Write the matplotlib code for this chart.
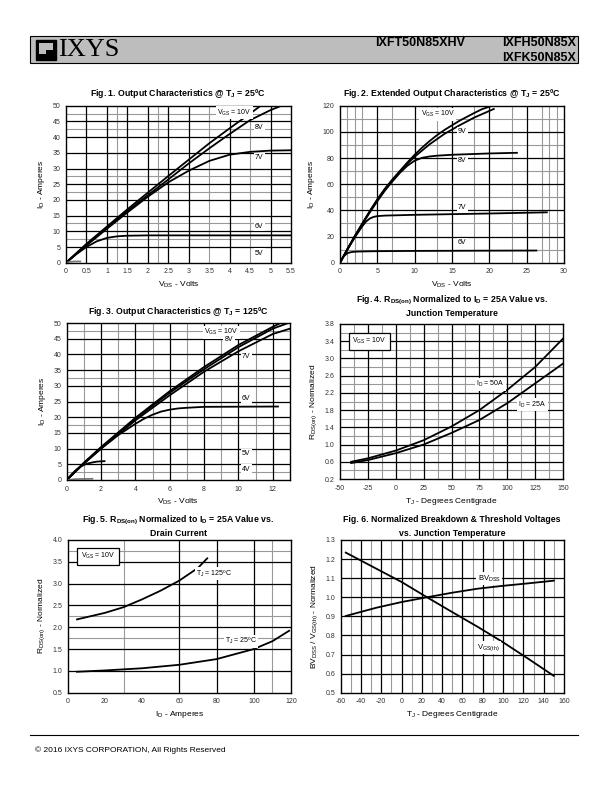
"""
IXYS datasheet page: output characteristics, Rds(on) and threshold curves
"""
import numpy as np
import matplotlib.pyplot as plt
from matplotlib.patches import Rectangle

plt.rcParams['font.family'] = ['Liberation Sans', 'DejaVu Sans']
plt.rcParams['mathtext.default'] = 'regular'

NARROW = ['Liberation Sans Narrow', 'Liberation Sans', 'DejaVu Sans']

# ---- Fig. 1  Output characteristics @ 25C ----
f1_vds_10v = [0, 0.5, 1, 1.5, 2, 2.5, 3, 3.5, 4, 4.5, 4.76]
f1_id_10v = [0, 6, 11.5, 17, 22.3, 27.6, 32.8, 38, 42.8, 47.5, 50]
f1_vds_8v = [0, 0.5, 1, 1.5, 2, 2.5, 3, 3.5, 4, 4.5, 5, 5.27]
f1_id_8v = [0, 5.8, 11.2, 16.5, 21.5, 26.5, 31.6, 36.4, 41, 45.4, 48.6, 50]
f1_vds_7v = [0, 0.5, 1, 1.5, 2, 2.5, 3, 3.5, 4, 4.5, 5, 5.5]
f1_id_7v = [0, 5.5, 10.8, 16, 21, 25.6, 29.3, 32.4, 34.4, 35.3, 35.7, 35.8]
f1_vds_6v = [0, 0.25, 0.5, 0.75, 1, 1.25, 1.5, 2, 3, 5.5]
f1_id_6v = [0, 2.7, 5, 6.8, 7.9, 8.4, 8.6, 8.7, 8.7, 8.7]
f1_vds_5v = [0, 0.1, 0.2, 0.35]
f1_id_5v = [0, 0.3, 0.4, 0.4]

# ---- Fig. 2  Extended output characteristics @ 25C ----
f2_vds_10v = [0, 1, 2, 3, 4, 5, 6, 7, 8, 9, 10, 11, 12, 13, 14, 15, 16, 17, 18, 19, 20.4]
f2_id_10v = [0, 10.5, 20.5, 30, 39.5, 48.5, 56.5, 63.5, 70, 76.5, 82.5, 88, 93, 97.5,
             101.5, 105, 108.5, 111.5, 114.5, 117.3, 120]
f2_vds_9v = [0, 1, 2, 3, 4, 5, 6, 7, 8, 9, 10, 12, 14, 16, 18, 20.6]
f2_id_9v = [0, 10.5, 20.5, 30, 39.3, 48, 56, 63, 69.5, 75.5, 81, 90.5, 98.5, 105, 111, 117.5]
f2_vds_8v = [0, 1, 2, 3, 4, 5, 6, 7, 8, 9, 10, 11, 12, 13, 15, 20, 23.7]
f2_id_8v = [0, 10.3, 20, 29.5, 38.5, 47, 55, 62, 68.5, 74, 78, 80.2, 81.2, 81.8, 82.5, 83.5, 84]
f2_vds_7v = [0, 1, 2, 3, 3.5, 4, 4.5, 5, 6, 10, 15, 20, 27.7]
f2_id_7v = [0, 10, 19.5, 28, 31.5, 33.8, 35, 35.6, 36, 36.6, 37.1, 37.6, 38.5]
f2_vds_6v = [0, 0.5, 1, 1.5, 2, 3, 5, 10, 20, 26.3]
f2_id_6v = [0, 5, 7.3, 8.1, 8.4, 8.6, 8.8, 9, 9.2, 9.3]

# ---- Fig. 3  Output characteristics @ 125C ----
f3_vds_10v = [0, 1, 2, 4, 6, 8, 10, 12, 12.45]
f3_id_10v = [0, 5.5, 10.5, 19.8, 28.3, 36, 43, 48.8, 50]
f3_vds_8v = [0, 1, 2, 4, 6, 8, 10, 12, 12.9]
f3_id_8v = [0, 5.4, 10.3, 19.5, 27.8, 35.3, 42.3, 48.2, 50]
f3_vds_7v = [0, 1, 2, 4, 6, 8, 10, 12, 13]
f3_id_7v = [0, 5.3, 10, 19, 27, 34.5, 41, 46.5, 48.2]
f3_vds_6v = [0, 1, 2, 3, 4, 4.5, 5, 5.5, 6, 6.5, 7, 8, 12.3]
f3_id_6v = [0, 5.2, 10, 14.3, 17.9, 19.5, 20.8, 21.8, 22.4, 22.8, 23, 23.3, 23.4]
f3_vds_5v = [0, 0.25, 0.5, 0.75, 1, 1.25, 1.5, 1.75, 2, 2.2]
f3_id_5v = [0, 1.6, 3, 4.1, 4.8, 5.3, 5.6, 5.85, 5.95, 6]
f3_vds_4v = [0, 0.5, 1.5]
f3_id_4v = [0, 0.3, 0.4]

# ---- Fig. 4  Rds(on) vs junction temperature ----
f4_tj = [-40, -25, 0, 25, 50, 75, 100, 125, 150]
f4_r_50a = [0.6, 0.68, 0.86, 1.1, 1.42, 1.8, 2.27, 2.8, 3.46]
f4_r_25a = [0.57, 0.64, 0.8, 1.0, 1.27, 1.57, 1.96, 2.42, 2.88]

# ---- Fig. 5  Rds(on) vs drain current ----
f5_id_125 = [5, 20, 30, 40, 50, 60, 70, 75]
f5_r_125 = [2.18, 2.33, 2.46, 2.64, 2.84, 3.07, 3.36, 3.58]
f5_id_25 = [5, 20, 40, 60, 80, 100, 110, 119]
f5_r_25 = [0.98, 1.01, 1.06, 1.14, 1.27, 1.5, 1.68, 1.92]

# ---- Fig. 6  Breakdown & threshold vs temperature ----
f6_tj = [-55, -25, 0, 25, 50, 75, 100, 125, 150]
f6_bvdss = [0.902, 0.945, 0.975, 1.0, 1.024, 1.045, 1.06, 1.073, 1.087]
f6_vgsth = [1.234, 1.15, 1.08, 1.0, 0.922, 0.845, 0.764, 0.677, 0.588]

fig = plt.figure(figsize=(6.12, 7.92), dpi=100)


def px_axes(x0, x1, y0, y1):
    # axes placed by page pixel coordinates (top-left origin)
    return fig.add_axes([x0 / 612, 1 - y1 / 792, (x1 - x0) / 612, (y1 - y0) / 792])


def style(ax, xlim, ylim, xticks, yticks, xlabels, ylabels, black_x, gray_x, black_y, gray_y):
    ax.set_xlim(*xlim)
    ax.set_ylim(*ylim)
    for v in gray_x:
        ax.axvline(v, color='#999999', lw=0.8, zorder=1)
    for v in gray_y:
        ax.axhline(v, color='#999999', lw=0.8, zorder=1)
    for v in black_x:
        ax.axvline(v, color='black', lw=0.9, zorder=1.5)
    for v in black_y:
        ax.axhline(v, color='black', lw=0.9, zorder=1.5)
    ax.set_xticks(xticks)
    ax.set_xticklabels(xlabels)
    ax.set_yticks(yticks)
    ax.set_yticklabels(ylabels)
    ax.tick_params(length=0, labelsize=5, colors='#333333', pad=4)
    for s in ax.spines.values():
        s.set_linewidth(1.0)


def lbl(ax, x, y, s, size=5):
    ax.text(x, y, s, fontsize=size, ha='left', va='center', zorder=3,
            bbox=dict(facecolor='white', edgecolor='none', pad=1.0))


def boxed(ax, x, y, s):
    ax.text(x, y, s, fontsize=5, ha='left', va='center', zorder=3,
            bbox=dict(facecolor='white', edgecolor='black', lw=0.9, pad=2.5))


def title(y, lines, xc):
    for i, t in enumerate(lines):
        fig.text(xc / 612, 1 - (y + i * 13) / 792, t, ha='center', va='center',
                 fontsize=6.3, fontweight='bold', family=NARROW)


kw = dict(color='black', lw=1.3, zorder=2)

# Fig 1
ax1 = px_axes(66, 291, 105.7, 262.7)
style(ax1, (0, 5.5), (0, 50), np.arange(0, 5.51, 0.5), np.arange(0, 51, 5),
      ['0', '0.5', '1', '1.5', '2', '2.5', '3', '3.5', '4', '4.5', '5', '5.5'],
      [str(v) for v in range(0, 51, 5)],
      [0.5, 1, 1.5, 2, 2.5, 3, 4, 5], [1.25, 2.25, 3.5, 4.5],
      np.arange(5, 50, 5), [7.5, 12.5, 22.5, 27.5, 42.5, 47.5])
ax1.plot(f1_vds_10v, f1_id_10v, **kw)
ax1.plot(f1_vds_8v, f1_id_8v, **kw)
ax1.plot(f1_vds_7v, f1_id_7v, **kw)
ax1.plot(f1_vds_6v, f1_id_6v, **kw)
ax1.plot(f1_vds_5v, f1_id_5v, color='#777777', lw=1.2, zorder=2)
lbl(ax1, 3.7, 47.8, r'V$_{GS}$ = 10V')
lbl(ax1, 4.62, 43, '8V')
lbl(ax1, 4.62, 33.4, '7V')
lbl(ax1, 4.62, 11.5, '6V')
lbl(ax1, 4.62, 3.0, '5V')
ax1.set_xlabel(r'V$_{DS}$ - Volts', fontsize=6, labelpad=3)
ax1.set_ylabel(r'I$_D$ - Amperes', fontsize=6, labelpad=4)
title(93, [r'Fig. 1. Output Characteristics @ T$_J$ = 25ºC'], 178)

# Fig 2
ax2 = px_axes(340, 564, 105.7, 262.7)
style(ax2, (0, 30), (0, 120), np.arange(0, 31, 5), np.arange(0, 121, 20),
      [str(v) for v in range(0, 31, 5)], [str(v) for v in range(0, 121, 20)],
      [5, 10, 15, 20, 25], [1, 2, 3, 7, 13, 18, 23, 27, 28, 29],
      [20, 40, 60, 80, 100], [10, 30, 50, 70, 90, 110])
ax2.plot(f2_vds_10v, f2_id_10v, **kw)
ax2.plot(f2_vds_9v, f2_id_9v, **kw)
ax2.plot(f2_vds_8v, f2_id_8v, **kw)
ax2.plot(f2_vds_7v, f2_id_7v, **kw)
ax2.plot(f2_vds_6v, f2_id_6v, **kw)
lbl(ax2, 10.8, 113.4, r'V$_{GS}$ = 10V')
lbl(ax2, 15.8, 100, '9V')
lbl(ax2, 15.8, 78, '8V')
lbl(ax2, 15.8, 42, '7V')
lbl(ax2, 15.8, 15.5, '6V')
ax2.set_xlabel(r'V$_{DS}$ - Volts', fontsize=6, labelpad=3)
ax2.set_ylabel(r'I$_D$ - Amperes', fontsize=6, labelpad=4)
title(93, [r'Fig. 2. Extended Output Characteristics @ T$_J$ = 25ºC'], 452)

# Fig 3
ax3 = px_axes(66.7, 290, 323, 480)
style(ax3, (0, 13), (0, 50), np.arange(0, 13, 2), np.arange(0, 51, 5),
      [str(v) for v in range(0, 13, 2)], [str(v) for v in range(0, 51, 5)],
      [2, 4, 6, 8, 10, 12], [1, 3, 5, 7, 9, 11],
      np.arange(5, 50, 5), [2.5, 17.5, 32.5, 47.5])
ax3.plot(f3_vds_10v, f3_id_10v, **kw)
ax3.plot(f3_vds_8v, f3_id_8v, **kw)
ax3.plot(f3_vds_7v, f3_id_7v, **kw)
ax3.plot(f3_vds_6v, f3_id_6v, **kw)
ax3.plot(f3_vds_5v, f3_id_5v, **kw)
ax3.plot(f3_vds_4v, f3_id_4v, color='#777777', lw=1.2, zorder=2)
lbl(ax3, 8.0, 47.1, r'V$_{GS}$ = 10V')
lbl(ax3, 9.2, 44.6, '8V')
lbl(ax3, 10.2, 39.4, '7V')
lbl(ax3, 10.2, 25.9, '6V')
lbl(ax3, 10.2, 8.3, '5V')
lbl(ax3, 10.2, 3.4, '4V')
ax3.set_xlabel(r'V$_{DS}$ - Volts', fontsize=6, labelpad=3)
ax3.set_ylabel(r'I$_D$ - Amperes', fontsize=6, labelpad=4)
title(312, [r'Fig. 3. Output Characteristics @ T$_J$ = 125ºC'], 178)

# Fig 4
ax4 = px_axes(340, 563, 324, 479)
yt4 = np.round(np.arange(0.2, 3.81, 0.4), 1)
style(ax4, (-50, 150), (0.2, 3.8), np.arange(-50, 151, 25), yt4,
      [str(v) for v in range(-50, 151, 25)], ['%.1f' % v for v in yt4],
      np.arange(-25, 150, 25), np.arange(-37.5, 150, 25),
      yt4[1:-1], np.round(np.arange(0.4, 3.7, 0.4), 1))
ax4.plot(f4_tj, f4_r_50a, **kw)
ax4.plot(f4_tj, f4_r_25a, **kw)
lbl(ax4, 72, 2.4, r'I$_D$ = 50A')
lbl(ax4, 110, 1.92, r'I$_D$ = 25A')
boxed(ax4, -39, 3.4, r'V$_{GS}$ = 10V')
ax4.set_xlabel(r'T$_J$ - Degrees Centigrade', fontsize=6, labelpad=3)
ax4.set_ylabel(r'R$_{DS(on)}$ - Normalized', fontsize=6, labelpad=4)
title(300, [r'Fig. 4. R$_{DS(on)}$ Normalized to I$_D$ = 25A Value vs.',
            'Junction Temperature'], 452)

# Fig 5
ax5 = px_axes(67.7, 291, 540, 692.7)
yt5 = np.arange(0.5, 4.01, 0.5)
style(ax5, (0, 120), (0.5, 4.0), np.arange(0, 121, 20), yt5,
      [str(v) for v in range(0, 121, 20)], ['%.1f' % v for v in yt5],
      [60, 80, 100], [30, 110],
      [1.0, 1.5, 2.0, 2.5, 3.0, 3.5], [1.75, 2.25, 3.75])
ax5.plot(f5_id_125, f5_r_125, **kw)
ax5.plot(f5_id_25, f5_r_25, **kw)
lbl(ax5, 69, 3.23, r'T$_J$ = 125ºC')
lbl(ax5, 84.5, 1.68, r'T$_J$ = 25ºC')
boxed(ax5, 7, 3.63, r'V$_{GS}$ = 10V')
ax5.set_xlabel(r'I$_D$ - Amperes', fontsize=6, labelpad=3)
ax5.set_ylabel(r'R$_{DS(on)}$ - Normalized', fontsize=6, labelpad=4)
title(520, [r'Fig. 5. R$_{DS(on)}$ Normalized to I$_D$ = 25A Value vs.',
            'Drain Current'], 178)

# Fig 6
ax6 = px_axes(340.7, 564, 540, 692.7)
yt6 = np.round(np.arange(0.5, 1.31, 0.1), 1)
style(ax6, (-60, 160), (0.5, 1.3), np.arange(-60, 161, 20), yt6,
      [str(v) for v in range(-60, 161, 20)], ['%.1f' % v for v in yt6],
      np.arange(-40, 160, 20), np.arange(-50, 160, 20),
      yt6[1:-1], [])
ax6.plot(f6_tj, f6_bvdss, **kw)
ax6.plot(f6_tj, f6_vgsth, **kw)
lbl(ax6, 75, 1.097, r'BV$_{DSS}$', size=5.5)
lbl(ax6, 74, 0.737, r'V$_{GS(th)}$', size=5.5)
ax6.set_xlabel(r'T$_J$ - Degrees Centigrade', fontsize=6, labelpad=3)
ax6.set_ylabel(r'BV$_{DSS}$ / V$_{GS(th)}$ - Normalized', fontsize=6, labelpad=4)
title(520, ['Fig. 6. Normalized Breakdown & Threshold Voltages',
            'vs. Junction Temperature'], 452)

# header bar with logo and part numbers
hdr = fig.add_axes([0, 0, 1, 1], zorder=-1)
hdr.set_xlim(0, 612)
hdr.set_ylim(792, 0)
hdr.axis('off')
hdr.add_patch(Rectangle((30, 36), 548, 27, facecolor='#bdbdbd', edgecolor='black', lw=0.8))
hdr.add_patch(Rectangle((36, 40), 20, 20, facecolor='black', edgecolor='black'))
hdr.add_patch(Rectangle((39, 43), 7, 11, facecolor='#bdbdbd', edgecolor='none'))
hdr.add_patch(Rectangle((46, 43), 7, 7, facecolor='#bdbdbd', edgecolor='none'))
hdr.text(58, 50.5, 'IXYS', fontsize=19, family=['Liberation Serif', 'DejaVu Serif'],
         va='center', ha='left')
hdr.text(465, 43.5, 'IXFT50N85XHV', fontsize=9, fontweight='bold', family=NARROW,
         ha='right', va='center')
hdr.text(576, 43.5, 'IXFH50N85X', fontsize=9, fontweight='bold', family=NARROW,
         ha='right', va='center')
hdr.text(576, 58, 'IXFK50N85X', fontsize=9, fontweight='bold', family=NARROW,
         ha='right', va='center')

# footer
hdr.plot([30, 578], [735, 735], color='black', lw=0.8)
hdr.text(35, 750, '© 2016 IXYS CORPORATION, All Rights Reserved', fontsize=6,
         ha='left', va='center')

fig.savefig('out.png', dpi=100)
